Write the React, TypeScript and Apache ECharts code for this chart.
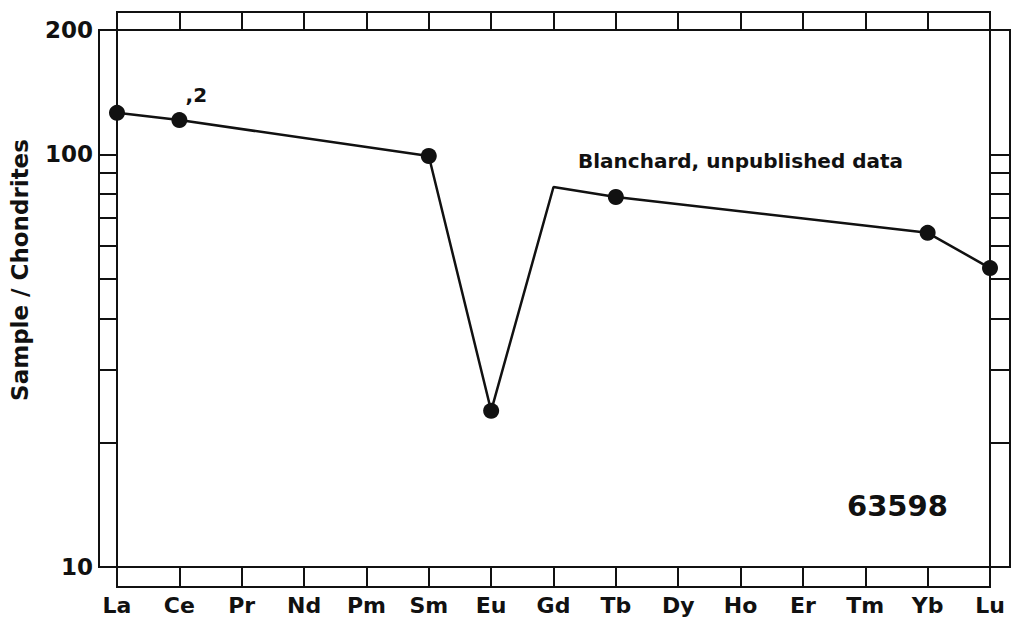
import React, { useEffect, useRef } from "react";
import * as echarts from "echarts";

const elements = ["La", "Ce", "Pr", "Nd", "Pm", "Sm", "Eu", "Gd", "Tb", "Dy", "Ho", "Er", "Tm", "Yb", "Lu"];
const normalized: (number | null)[] = [126, 121, null, null, null, 99, 23.9, 83.3, 78.8, null, null, null, null, 64.5, 53];
const unmarked = ["Gd"];
const minorTickValues = [20, 30, 40, 50, 60, 70, 80, 90, 100];
const labelValues = [10, 100, 200];
const yName = "Sample / Chondrites";
const sourceNote = "Blanchard, unpublished data";
const sampleId = "63598";
const ceNote = ",2";

const INK = "#111";
const FONT = "DejaVu Sans";

export default function App() {
  const ref = useRef<HTMLDivElement>(null);
  useEffect(() => {
    if (!ref.current) return;
    const chart = echarts.init(ref.current, null, { renderer: "svg" });
    const hiddenX = (g: number) => ({ type: "value", gridIndex: g, show: false });
    const hiddenY = (g: number) => ({ type: "value", gridIndex: g, show: false });
    const seriesData = normalized.map((v, i) => {
      if (v === null) return null;
      const item: any = { value: v };
      if (unmarked.includes(elements[i])) item.symbol = "none";
      if (elements[i] === "Ce") {
        item.label = {
          show: true,
          formatter: ceNote,
          position: "top",
          offset: [17, -2],
          color: INK,
          fontFamily: FONT,
          fontWeight: "bold",
          fontSize: 20,
        };
      }
      return item;
    });
    chart.setOption({
      animation: false,
      backgroundColor: "#fff",
      grid: [
        { left: 99, top: 30, width: 911, height: 537, show: true, borderColor: INK, borderWidth: 2, backgroundColor: "transparent" },
        { left: 117, top: 12, width: 873, height: 575, show: true, borderColor: INK, borderWidth: 2, backgroundColor: "transparent" },
        { left: 117, top: 30, width: 873, height: 537 },
      ],
      xAxis: [
        hiddenX(0),
        hiddenX(1),
        {
          type: "category",
          gridIndex: 2,
          data: elements,
          boundaryGap: false,
          position: "bottom",
          axisLine: { show: false },
          axisTick: { show: true, length: 20, inside: false, interval: 0, lineStyle: { color: INK, width: 2 } },
          axisLabel: { interval: 0, margin: 27, color: INK, fontFamily: FONT, fontWeight: "bold", fontSize: 22 },
          splitLine: { show: false },
        },
        {
          type: "category",
          gridIndex: 2,
          data: elements,
          boundaryGap: false,
          position: "top",
          axisLine: { show: false },
          axisTick: { show: true, length: 18, inside: false, interval: 0, lineStyle: { color: INK, width: 2 } },
          axisLabel: { show: false },
          splitLine: { show: false },
        },
      ],
      yAxis: [
        hiddenY(0),
        hiddenY(1),
        {
          type: "log",
          logBase: 10,
          gridIndex: 2,
          min: 10,
          max: 200,
          position: "left",
          axisLine: { show: false },
          axisTick: { show: true, length: 18, inside: false, customValues: minorTickValues, lineStyle: { color: INK, width: 2 } },
          axisLabel: { show: false },
          splitLine: { show: false },
        },
        {
          type: "log",
          logBase: 10,
          gridIndex: 2,
          min: 10,
          max: 200,
          position: "left",
          offset: 18,
          axisLine: { show: false },
          axisTick: { show: false },
          axisLabel: { show: true, customValues: labelValues, margin: 6, color: INK, fontFamily: FONT, fontWeight: "bold", fontSize: 23 },
          splitLine: { show: false },
        },
        {
          type: "log",
          logBase: 10,
          gridIndex: 2,
          min: 10,
          max: 200,
          position: "right",
          axisLine: { show: false },
          axisTick: { show: true, length: 20, inside: false, customValues: minorTickValues, lineStyle: { color: INK, width: 2 } },
          axisLabel: { show: false },
          splitLine: { show: false },
        },
      ],
      series: [
        {
          type: "line",
          xAxisIndex: 2,
          yAxisIndex: 2,
          data: seriesData,
          connectNulls: true,
          symbol: "circle",
          symbolSize: 16,
          showAllSymbol: true,
          itemStyle: { color: INK },
          lineStyle: { color: INK, width: 2.5 },
          z: 5,
        },
      ],
      graphic: [
        {
          type: "text",
          x: 20,
          y: 270,
          rotation: Math.PI / 2,
          style: {
            text: yName,
            fill: INK,
            font: `bold 23px "${FONT}"`,
            textAlign: "center",
            textVerticalAlign: "middle",
          },
        },
        {
          type: "text",
          x: 578,
          y: 161,
          style: { text: sourceNote, fill: INK, font: `bold 20px "${FONT}"`, textAlign: "left", textVerticalAlign: "middle" },
        },
        {
          type: "text",
          x: 847,
          y: 506,
          style: { text: sampleId, fill: INK, font: `bold 29px "${FONT}"`, textAlign: "left", textVerticalAlign: "middle" },
        },
      ],
    });
    return () => chart.dispose();
  }, []);
  return <div ref={ref} style={{ position: "fixed", left: 0, top: 0, width: 1013, height: 620, background: "#fff" }} />;
}
